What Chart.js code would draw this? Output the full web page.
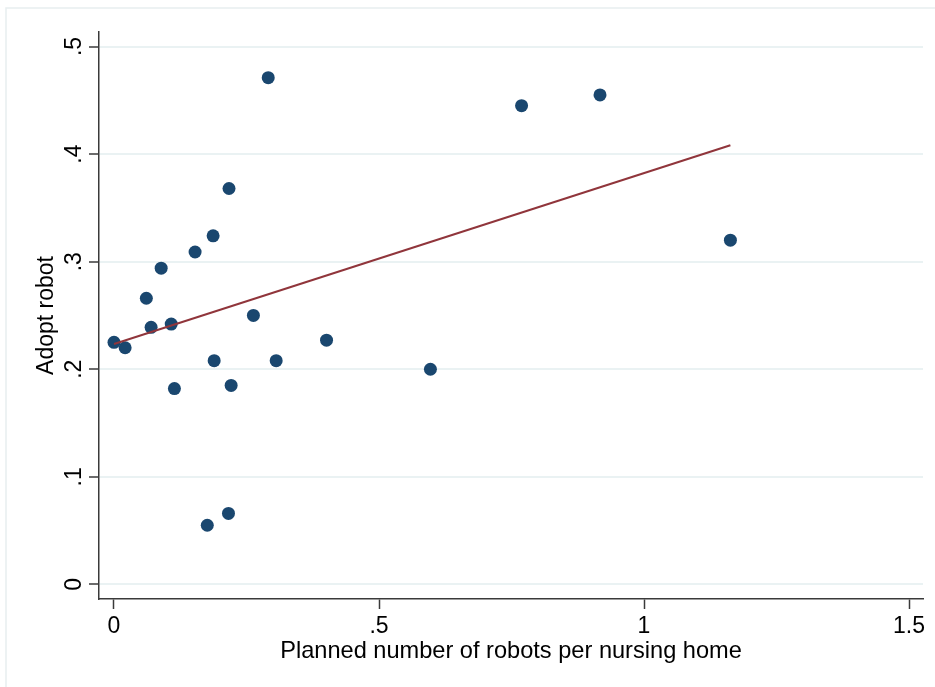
<!DOCTYPE html>
<html>
<head>
<meta charset="utf-8">
<script src="https://cdn.jsdelivr.net/npm/chart.js@4/dist/chart.umd.min.js"></script>
<style>
  html, body { margin: 0; padding: 0; background: #ffffff; }
  #wrap { width: 935px; height: 687px; position: relative; }
</style>
</head>
<body>
<div id="wrap"><canvas id="c" width="935" height="687"></canvas></div>
<script>
// ---- data ----
const robotsPerHome = [0.000, 0.021, 0.061, 0.070, 0.089, 0.108, 0.114, 0.153, 0.187, 0.189, 0.217, 0.221, 0.176, 0.216, 0.263, 0.291, 0.306, 0.401, 0.597, 0.769, 0.917, 1.163];
const adoptRobot    = [0.225, 0.220, 0.266, 0.239, 0.294, 0.242, 0.182, 0.309, 0.324, 0.208, 0.368, 0.185, 0.055, 0.066, 0.250, 0.471, 0.208, 0.227, 0.200, 0.445, 0.455, 0.320];
const fitX = [0.000, 1.163];
const fitY = [0.2235, 0.4082];
const xTickValues = [0, 0.5, 1, 1.5];
const xTickLabels = ['0', '.5', '1', '1.5'];
const yTickValues = [0, 0.1, 0.2, 0.3, 0.4, 0.5];
const yTickLabels = ['0', '.1', '.2', '.3', '.4', '.5'];
const xTitle = 'Planned number of robots per nursing home';
const yTitle = 'Adopt robot';

const FONT = "'Liberation Sans', Arial, sans-serif";
const FS = 23;

const scatterData = robotsPerHome.map((x, i) => ({ x: x, y: adoptRobot[i] }));
const fitData = fitX.map((x, i) => ({ x: x, y: fitY[i] }));

function labelFor(values, labels, v) {
  for (let i = 0; i < values.length; i++) {
    if (Math.abs(values[i] - v) < 1e-9) return labels[i];
  }
  return '';
}

const framePlugin = {
  id: 'frame',
  beforeDraw(chart) {
    const ctx = chart.ctx;
    ctx.save();
    ctx.strokeStyle = '#e8eef0';
    ctx.lineWidth = 1.5;
    ctx.beginPath();
    ctx.moveTo(6, 690); ctx.lineTo(6, 8); ctx.lineTo(940, 8);
    ctx.stroke();
    ctx.restore();
  }
};

const yLabelPlugin = {
  id: 'yLabels',
  afterDraw(chart) {
    const s = chart.scales.y;
    const ctx = chart.ctx;
    ctx.save();
    ctx.fillStyle = '#000000';
    ctx.font = FS + 'px ' + FONT;
    ctx.textAlign = 'center';
    ctx.textBaseline = 'alphabetic';
    s.ticks.forEach(t => {
      const py = s.getPixelForValue(t.value);
      ctx.save();
      ctx.translate(81, py);
      ctx.rotate(-Math.PI / 2);
      ctx.fillText(t.label, 0, 0);
      ctx.restore();
    });
    ctx.restore();
  }
};

new Chart(document.getElementById('c'), {
  type: 'scatter',
  data: {
    datasets: [
      {
        type: 'line',
        data: fitData,
        borderColor: '#90353b',
        borderWidth: 2,
        pointRadius: 0,
        fill: false,
        order: 0
      },
      {
        type: 'scatter',
        data: scatterData,
        backgroundColor: '#1a476f',
        borderWidth: 0,
        pointRadius: 6.5,
        pointHoverRadius: 6.5,
        order: 1
      }
    ]
  },
  options: {
    responsive: false,
    animation: false,
    events: [],
    layout: { padding: { top: 32, right: 12, left: 0, bottom: 0 } },
    plugins: { legend: { display: false }, tooltip: { enabled: false } },
    scales: {
      x: {
        type: 'linear',
        min: -0.0283,
        max: 1.5264,
        afterFit(scale) { scale.height = 88; },
        afterBuildTicks(scale) { scale.ticks = xTickValues.map(v => ({ value: v })); },
        ticks: {
          includeBounds: false,
          color: '#000000',
          font: { family: FONT, size: FS },
          padding: 4,
          maxRotation: 0,
          callback: (v) => labelFor(xTickValues, xTickLabels, v)
        },
        grid: { drawOnChartArea: false, drawTicks: true, tickLength: 10, tickColor: '#3a3a3a', tickWidth: 1.5 },
        border: { display: true, color: '#3a3a3a', width: 1.5 },
        title: { display: true, text: xTitle, color: '#000000', font: { family: FONT, size: 23.6 }, padding: { top: 0, bottom: 21 } }
      },
      y: {
        type: 'linear',
        min: -0.01356,
        max: 0.5135,
        afterFit(scale) { scale.width = 99; },
        afterBuildTicks(scale) { scale.ticks = yTickValues.map(v => ({ value: v })); },
        ticks: {
          display: false,
          includeBounds: false,
          callback: (v) => labelFor(yTickValues, yTickLabels, v)
        },
        grid: { color: '#eaf2f3', lineWidth: 2, drawTicks: true, tickLength: 10, tickColor: '#3a3a3a', tickWidth: 1.5 },
        border: { display: true, color: '#3a3a3a', width: 1.5 },
        title: { display: true, text: yTitle, color: '#000000', font: { family: FONT, size: FS }, padding: { top: 33, bottom: 0 } }
      }
    }
  },
  plugins: [framePlugin, yLabelPlugin]
});
</script>
</body>
</html>
